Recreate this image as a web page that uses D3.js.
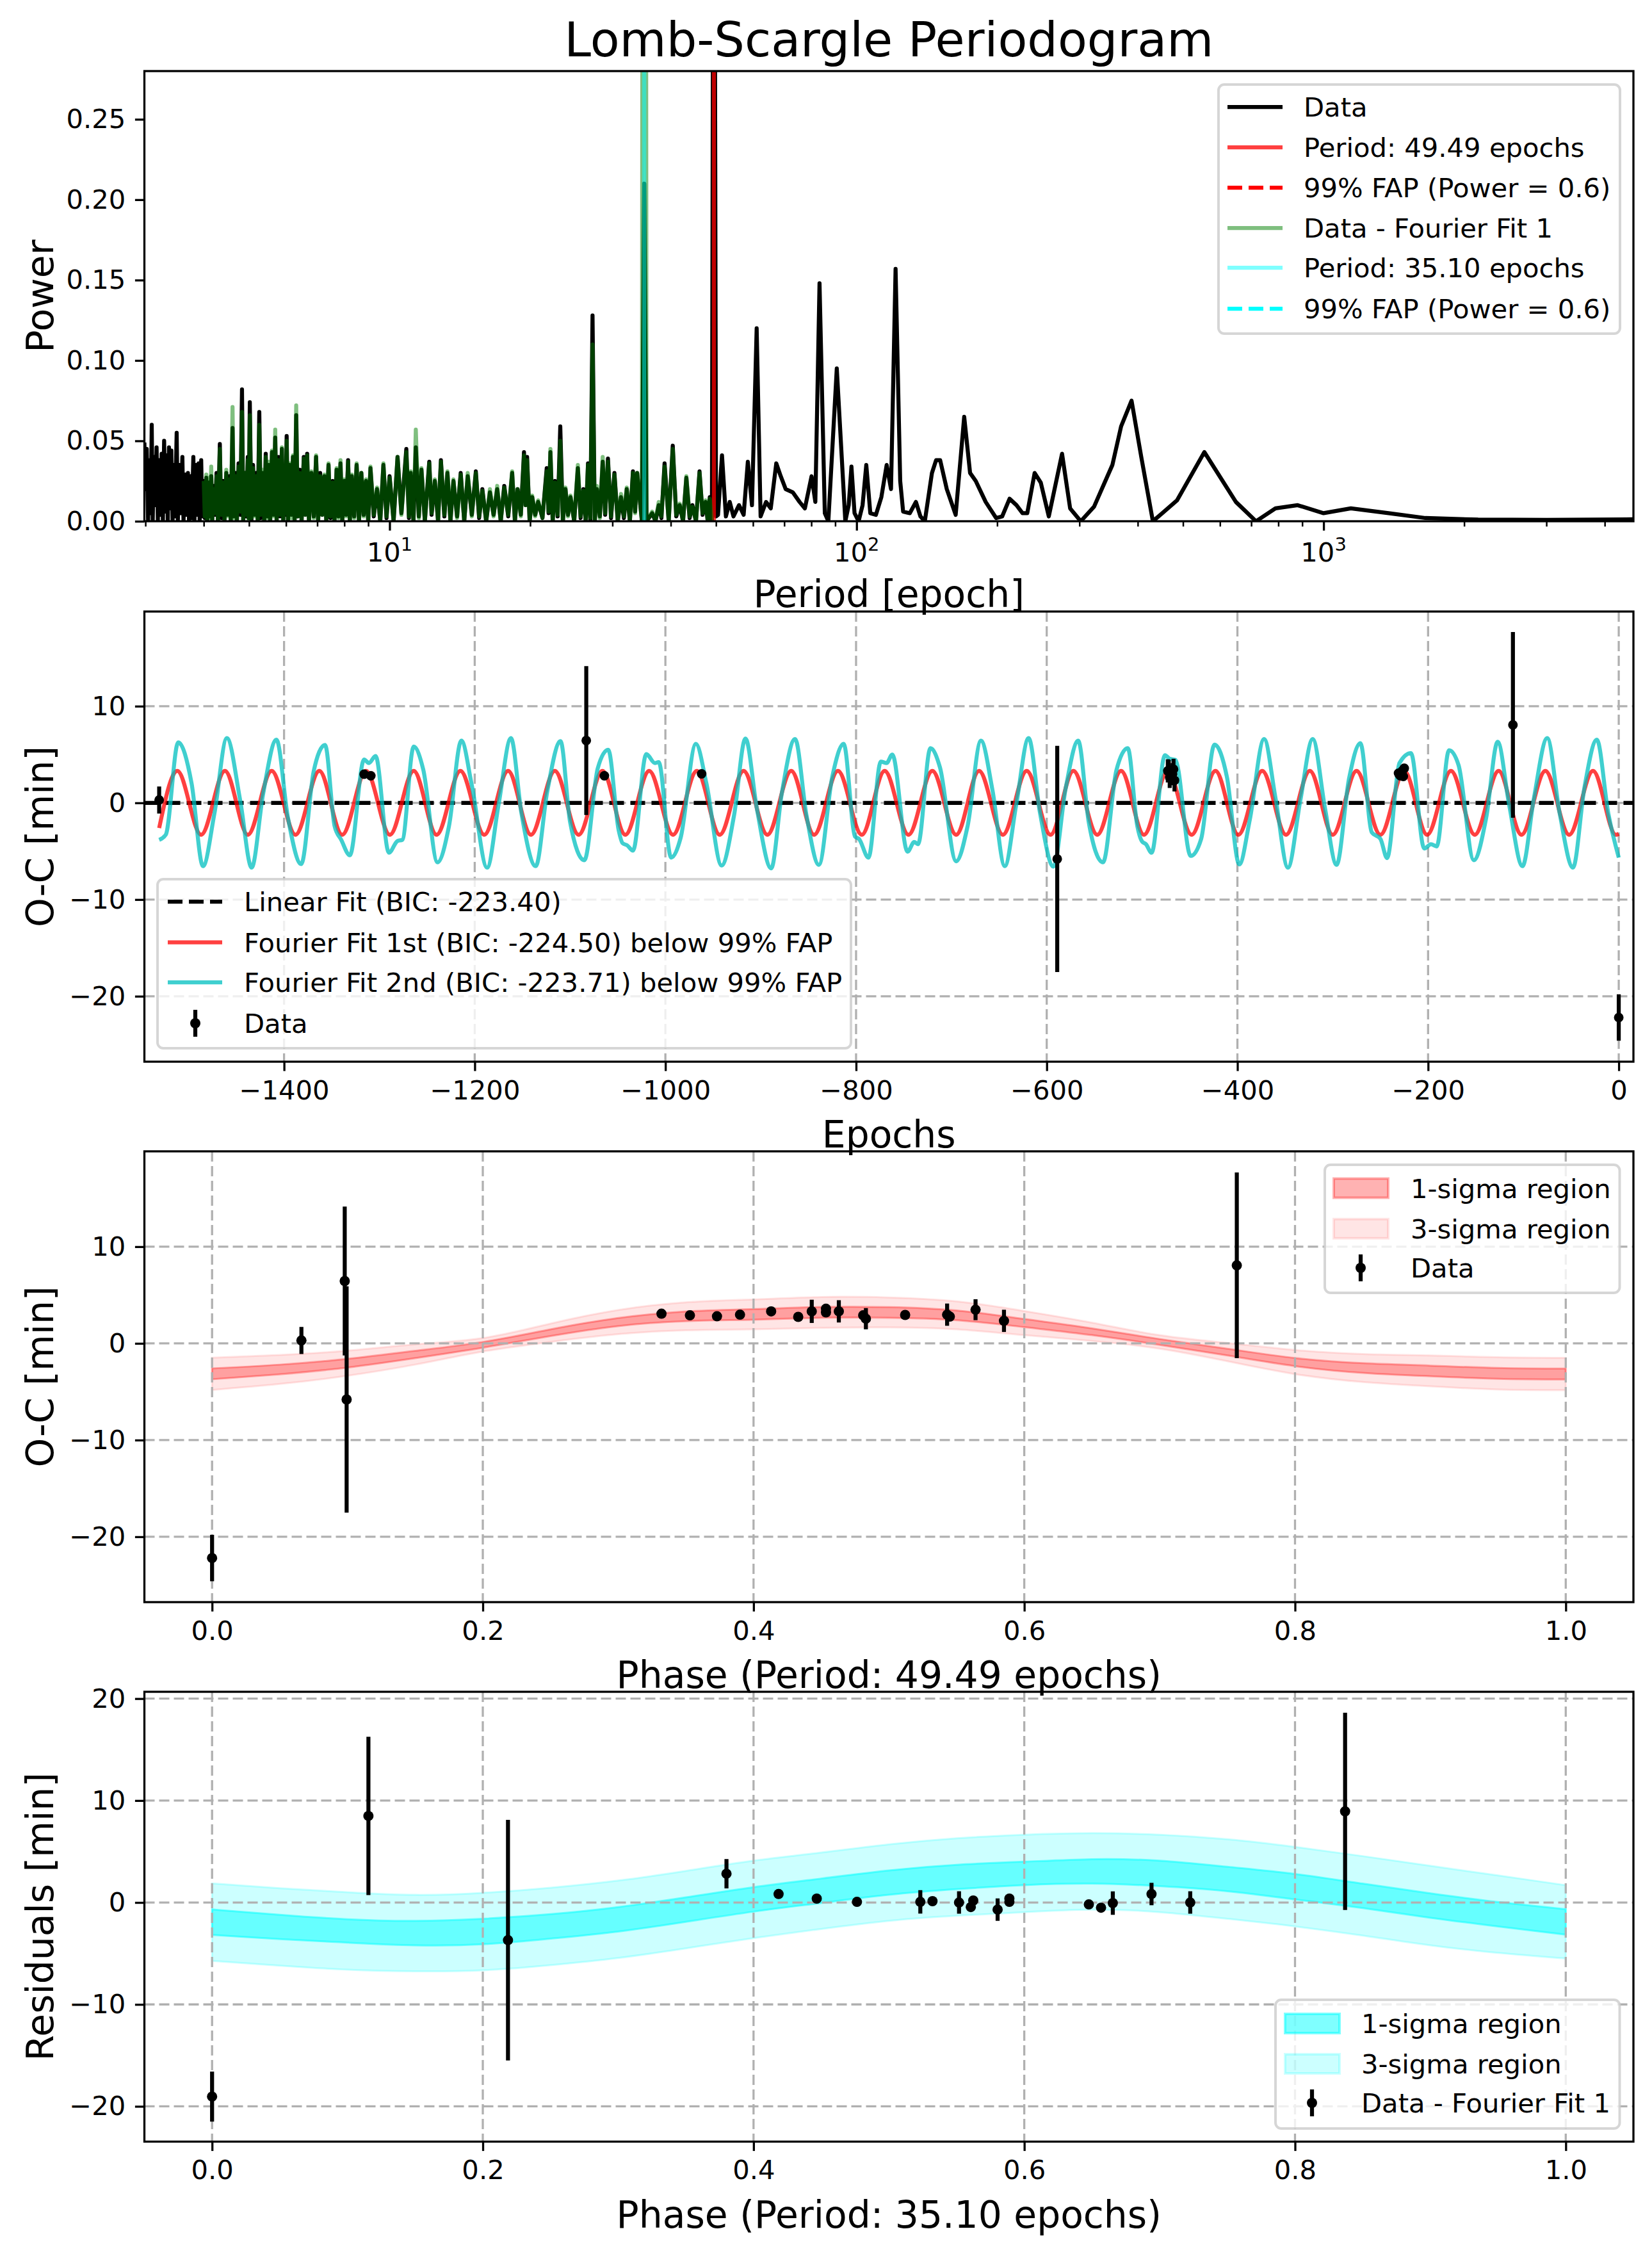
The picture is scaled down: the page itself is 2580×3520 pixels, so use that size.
<!DOCTYPE html>
<meta charset="utf-8">
<title>Lomb-Scargle Periodogram</title>
<style>
body { margin: 0; background: #fff; }
text { font-family: "DejaVu Sans", sans-serif; }
</style>
<body>
<script src="https://d3js.org/d3.v7.min.js"></script>
<script>

// ---------- data ----------

// periodogram, short periods (black only): [period, power]
var lsShort = [[2.985,0.049],[3.0,0.02],[3.02,0.045],[3.04,0.0],[3.06,0.038],[3.08,0.005],[3.095,0.06],[3.11,0.0],
  [3.13,0.04],[3.15,0.01],[3.17,0.046],[3.19,0.0],[3.21,0.038],[3.23,0.004],[3.25,0.042],[3.27,0.0],[3.29,0.05],
  [3.31,0.006],[3.33,0.041],[3.35,0.0],[3.37,0.046],[3.39,0.008],[3.41,0.044],[3.43,0.0],[3.45,0.035],[3.47,0.003],
  [3.5,0.055],[3.52,0.0],[3.55,0.035],[3.57,0.005],[3.6,0.04],[3.62,0.0],[3.65,0.029],[3.67,0.004],[3.7,0.03],
  [3.72,0.0],[3.75,0.028],[3.77,0.002],[3.8,0.04],[3.82,0.0],[3.85,0.035],[3.87,0.004],[3.9,0.036],[3.92,0.0],
  [3.95,0.038],[3.97,0.003]];

// periodogram, 4..49 epochs: [period, data power, (data - fourier fit 1) power]
var lsMid = [[4.0,0.025,0.025],[4.02,0.002,0.003],[4.05,0.027,0.029],[4.07,0.0,0.0],[4.1,0.024,0.027],[4.12,0.003,0.002],
  [4.15,0.028,0.034],[4.17,0.0,0.0],[4.2,0.022,0.02],[4.23,0.004,0.005],[4.26,0.03,0.028],[4.29,0.0,0.0],
  [4.33,0.048,0.045],[4.36,0.002,0.004],[4.4,0.025,0.024],[4.43,0.0,0.0],[4.47,0.03,0.032],[4.5,0.004,0.003],
  [4.54,0.028,0.026],[4.57,0.0,0.0],[4.61,0.058,0.071],[4.64,0.003,0.002],[4.68,0.03,0.028],[4.71,0.0,0.0],
  [4.75,0.036,0.034],[4.79,0.004,0.006],[4.83,0.082,0.068],[4.86,0.0,0.0],[4.9,0.03,0.03],[4.93,0.003,0.004],
  [4.97,0.04,0.038],[4.99,0.002,0.0],[5.02,0.074,0.066],[5.06,0.0,0.002],[5.1,0.035,0.033],[5.14,0.004,0.003],
  [5.18,0.03,0.028],[5.22,0.0,0.0],[5.26,0.068,0.06],[5.3,0.002,0.004],[5.35,0.03,0.032],[5.39,0.0,0.0],
  [5.43,0.042,0.04],[5.47,0.003,0.002],[5.51,0.035,0.037],[5.55,0.0,0.0],[5.6,0.043,0.044],[5.64,0.004,0.003],
  [5.69,0.052,0.057],[5.73,0.0,0.0],[5.78,0.04,0.038],[5.83,0.003,0.004],[5.88,0.045,0.046],[5.92,0.0,0.0],
  [5.96,0.03,0.028],[5.98,0.004,0.005],[6.02,0.053,0.05],[6.06,0.0,0.0],[6.11,0.035,0.036],[6.16,0.004,0.002],
  [6.21,0.04,0.041],[6.26,0.0,0.0],[6.31,0.066,0.072],[6.36,0.003,0.003],[6.42,0.032,0.03],[6.48,0.0,0.0],
  [6.55,0.04,0.039],[6.6,0.004,0.004],[6.66,0.042,0.041],[6.72,0.0,0.0],[6.8,0.03,0.031],[6.88,0.003,0.002],
  [6.96,0.04,0.041],[7.03,0.0,0.0],[7.1,0.03,0.028],[7.17,0.004,0.004],[7.25,0.028,0.029],[7.32,0.0,0.0],
  [7.4,0.035,0.036],[7.47,0.002,0.003],[7.55,0.025,0.024],[7.62,0.0,0.0],[7.7,0.032,0.033],[7.77,0.003,0.002],
  [7.85,0.036,0.038],[7.92,0.0,0.0],[8.0,0.025,0.026],[8.07,0.004,0.003],[8.15,0.038,0.037],[8.22,0.0,0.0],
  [8.3,0.028,0.029],[8.4,0.003,0.002],[8.5,0.035,0.036],[8.6,0.0,0.0],[8.7,0.03,0.03],[8.8,0.004,0.003],
  [8.9,0.025,0.026],[9.0,0.0,0.0],[9.1,0.033,0.034],[9.25,0.003,0.004],[9.4,0.02,0.021],[9.55,0.0,0.0],
  [9.7,0.035,0.036],[9.85,0.002,0.003],[10.0,0.028,0.027],[10.2,0.0,0.0],[10.4,0.04,0.04],[10.6,0.005,0.004],
  [10.86,0.045,0.043],[11.0,0.002,0.003],[11.1,0.03,0.031],[11.25,0.0,0.0],[11.38,0.046,0.057],[11.55,0.003,0.002],
  [11.7,0.032,0.033],[11.9,0.0,0.0],[12.16,0.037,0.036],[12.3,0.004,0.005],[12.5,0.025,0.026],[12.7,0.0,0.0],
  [12.88,0.038,0.037],[13.1,0.003,0.004],[13.3,0.03,0.031],[13.5,0.0,0.0],[13.7,0.025,0.026],[13.95,0.003,0.002],
  [14.2,0.03,0.029],[14.45,0.0,0.0],[14.7,0.028,0.03],[15.0,0.004,0.003],[15.3,0.031,0.03],[15.55,0.002,0.003],
  [15.8,0.02,0.019],[16.1,0.0,0.0],[16.4,0.018,0.02],[16.7,0.004,0.003],[17.0,0.02,0.022],[17.3,0.0,0.0],
  [17.6,0.022,0.021],[17.95,0.003,0.004],[18.3,0.03,0.031],[18.55,0.0,0.0],[18.8,0.02,0.02],[19.1,0.004,0.003],
  [19.4,0.043,0.041],[19.55,0.01,0.01],[19.7,0.04,0.038],[19.95,0.0,0.0],[20.2,0.015,0.016],[20.5,0.004,0.003],
  [20.8,0.012,0.013],[21.25,0.002,0.002],[21.7,0.033,0.031],[21.9,0.005,0.006],[22.1,0.043,0.045],[22.35,0.0,0.0],
  [22.6,0.025,0.024],[22.9,0.003,0.004],[23.2,0.059,0.05],[23.5,0.0,0.0],[23.8,0.02,0.021],[24.1,0.004,0.003],
  [24.4,0.015,0.016],[24.85,0.0,0.0],[25.3,0.033,0.035],[25.65,0.002,0.003],[26.0,0.02,0.019],[26.3,0.0,0.0],
  [26.6,0.036,0.035],[26.9,0.0,0.002],[27.2,0.128,0.11],[27.5,0.0,0.0],[27.8,0.02,0.022],[28.2,0.003,0.002],
  [28.6,0.037,0.04],[28.95,0.004,0.005],[29.35,0.039,0.037],[29.8,0.002,0.003],[30.3,0.03,0.029],[30.8,0.0,0.0],
  [31.3,0.015,0.017],[31.75,0.002,0.003],[32.2,0.02,0.021],[32.7,0.0,0.0],[33.2,0.031,0.03],[33.55,0.006,0.005],
  [33.9,0.03,0.03],[34.7,0.0,0.0],[35.1,0.21,1.8],[35.5,0.0,0.0],[36.5,0.005,0.006],[37.1,0.0,0.0],
  [37.7,0.01,0.012],[38.2,0.002,0.003],[38.8,0.036,0.034],[39.6,0.0,0.0],[40.4,0.047,0.045],[41.1,0.003,0.004],
  [41.8,0.01,0.011],[42.5,0.0,0.0],[43.2,0.027,0.028],[43.9,0.002,0.003],[44.5,0.01,0.009],[45.3,0.0,0.0],
  [46.1,0.031,0.03],[46.8,0.004,0.005],[47.5,0.012,0.013],[48.0,0.0,0.0],[48.5,0.015,0.014],[49.0,0.0,0.0]];

// periodogram, long periods (black only): [period, power]
var lsLong = [[49.49,0.62],[50.0,0.003],[50.5,0.004],[51.5,0.041],[52.5,0.003],[53.5,0.012],[54.5,0.003],[56.0,0.01],
  [57.3,0.004],[58.5,0.037],[59.7,0.01],[61.1,0.12],[62.3,0.003],[64.0,0.012],[65.5,0.008],[67.3,0.036],[68.8,0.028],
  [70.5,0.02],[73.0,0.018],[75.5,0.012],[77.5,0.008],[80.1,0.028],[81.6,0.012],[83.3,0.148],[85.5,0.005],[87.0,0.0],
  [90.7,0.095],[94.6,0.0],[96.2,0.01],[97.5,0.034],[99.0,0.005],[101.0,0.0],[103.0,0.01],[104.9,0.035],[107.0,0.005],
  [110.0,0.004],[113.0,0.015],[116.0,0.035],[118.5,0.02],[121.2,0.157],[124.0,0.025],[125.8,0.006],[130.0,0.005],
  [134.0,0.012],[137.0,0.003],[140.0,0.0],[145.0,0.03],[148.0,0.038],[151.0,0.038],[156.0,0.02],[163.0,0.004],
  [170.0,0.065],[175.0,0.03],[180.0,0.025],[189.0,0.012],[199.0,0.002],[205.0,0.003],[212.6,0.014],[220.0,0.01],
  [226.6,0.005],[232.0,0.005],[240.6,0.03],[248.0,0.024],[258.0,0.003],[275.4,0.042],[286.6,0.008],[302.0,0.0],
  [322.4,0.009],[353.0,0.035],[368.5,0.059],[388.0,0.075],[407.0,0.04],[431.0,0.0],[451.5,0.005],[485.5,0.013],
  [555.5,0.043],[649.0,0.012],[716.6,0.0],[788.8,0.008],[880.0,0.01],[1000.0,0.005],[1144.0,0.008],[1377.0,0.005],
  [1652.0,0.002],[2142.0,0.001],[3000.0,0.0008],[4608.0,0.0012]];

var period1 = 49.49, period2 = 35.10, fapPower = 0.6;

// O-C data: [epoch, O-C min, error]
var ocData = [[-1531,0.3,1.4],[-1316,2.97,0.3],[-1309,2.8,0.3],[-1083,6.45,7.7],[-1064,2.8,0.3],[-962,3.0,0.3],
  [-589,-5.8,11.7],[-473,3.31,1.2],[-472,3.31,1.15],[-471,2.64,1.1],[-468,2.97,1.15],[-467,3.48,1.08],[-466,2.33,1.15],
  [-231,3.07,0.3],[-230,2.9,0.3],[-229,2.8,0.3],[-228,2.97,0.3],[-227,3.31,0.3],[-226,2.74,0.3],[-225,3.58,0.3],
  [-111,8.07,9.6],[0,-22.2,2.4]];

// fitted curves, knots: [epoch, O-C]
var fit1Knots = [[-1531,-2.6],[-1512,3.3],[-1487,-3.3],[-1462,3.3],[-1438,-3.3],[-1413,3.3],[-1388,-3.3],[-1363,3.3],
  [-1339,-3.3],[-1314,3.3],[-1289,-3.3],[-1264,3.3],[-1240,-3.3],[-1215,3.3],[-1190,-3.3],[-1165,3.3],[-1141,-3.3],
  [-1116,3.3],[-1091,-3.3],[-1066,3.3],[-1042,-3.3],[-1017,3.3],[-992,-3.3],[-967,3.3],[-943,-3.3],[-918,3.3],
  [-893,-3.3],[-868,3.3],[-844,-3.3],[-819,3.3],[-794,-3.3],[-770,3.3],[-745,-3.3],[-720,3.3],[-695,-3.3],[-671,3.3],
  [-646,-3.3],[-621,3.3],[-596,-3.3],[-572,3.3],[-547,-3.3],[-522,3.3],[-498,-3.3],[-473,3.3],[-448,-3.3],[-423,3.3],
  [-399,-3.3],[-374,3.3],[-349,-3.3],[-324,3.3],[-300,-3.3],[-275,3.3],[-250,-3.3],[-225,3.3],[-201,-3.3],[-176,3.3],
  [-151,-3.3],[-126,3.3],[-102,-3.3],[-77,3.3],[-52,-3.3],[-27,3.3],[-3,-3.3],[0,-3.2]];

var fit2Knots = [[-1531,-3.83],[-1524,-3.28],[-1511,6.26],[-1497,2.02],[-1485,-6.55],[-1473,-1.07],[-1460,6.7],
  [-1446,0.25],[-1434,-6.7],[-1422,0.9],[-1408,6.54],[-1396,-1.5],[-1382,-6.33],[-1369,3.23],[-1357,5.99],[-1347,-2.4],
  [-1340,-3.83],[-1331,-5.42],[-1316,4.49],[-1311,4.12],[-1304,4.84],[-1290,-5.16],[-1281,-3.94],[-1276,-3.83],
  [-1264,5.82],[-1254,3.45],[-1239,-6.15],[-1227,-2.4],[-1214,6.43],[-1203,1.8],[-1187,-6.7],[-1175,-0.19],[-1162,6.7],
  [-1151,-1.07],[-1136,-6.55],[-1124,1.13],[-1110,6.39],[-1100,-1.96],[-1085,-5.93],[-1071,3.56],[-1060,5.5],
  [-1049,-2.84],[-1045,-4.16],[-1040,-4.4],[-1034,-4.94],[-1020,5.05],[-1011,4.12],[-1007,4.22],[-994,-5.66],
  [-984,-3.61],[-968,6.1],[-957,2.02],[-941,-6.48],[-928,-1.3],[-916,6.65],[-904,-0.63],[-889,-6.77],[-878,0.91],
  [-864,6.61],[-852,-1.3],[-839,-6.41],[-825,2.68],[-813,6.1],[-801,-3.5],[-797,-3.72],[-787,-5.66],[-774,4.27],
  [-768,4.12],[-762,5.0],[-746,-5.05],[-739,-4.05],[-735,-4.27],[-722,5.66],[-712,3.67],[-695,-6.04],[-683,-2.4],
  [-669,6.43],[-657,1.36],[-644,-6.55],[-632,-0.19],[-619,6.7],[-607,-1.07],[-593,-6.59],[-580,1.58],[-567,6.43],
  [-556,-1.96],[-541,-6.15],[-527,3.34],[-515,5.66],[-505,-2.4],[-500,-4.0],[-496,-4.27],[-490,-5.16],[-476,4.93],
  [-471,4.56],[-465,4.45],[-449,-5.49],[-438,-3.72],[-424,6.03],[-411,2.68],[-398,-6.37],[-387,-1.74],[-372,6.61],
  [-360,0.47],[-347,-6.7],[-334,0.25],[-321,6.61],[-308,-0.63],[-296,-6.41],[-283,2.46],[-271,6.17],[-259,-3.06],
  [-250,-3.72],[-243,-5.71],[-230,4.12],[-218,5.15],[-204,-4.72],[-197,-4.27],[-191,-4.5],[-178,5.44],[-168,3.89],
  [-152,-5.93],[-139,-1.52],[-127,6.32],[-115,-0.19],[-101,-6.55],[-89,0.47],[-75,6.7],[-62,-1.07],[-48,-6.7],
  [-36,1.58],[-23,6.54],[-11,-1.07],[0,-5.66]];

// phase folded on 49.49 epochs: [phase, O-C, error]
var phase1Data = [[0,-22.2,2.4],[0.066,0.3,1.4],[0.098,6.45,7.7],[0.0994,-5.8,11.7],[0.332,3.07,0.3],[0.353,2.9,0.3],
  [0.373,2.8,0.3],[0.39,2.97,0.3],[0.413,3.31,0.3],[0.433,2.74,0.3],[0.443,3.31,1.2],[0.4535,3.58,0.3],
  [0.4535,3.2,0.3],[0.463,3.31,1.15],[0.481,2.9,0.3],[0.483,2.55,1.1],[0.512,2.94,0.3],[0.543,2.97,1.15],
  [0.545,2.77,0.3],[0.564,3.48,1.08],[0.585,2.33,1.15],[0.757,8.07,9.6]];

// phase folded on 35.10 epochs: [phase, residual, error]
var phase2Data = [[0,-19.04,2.45],[0.1155,8.49,7.77],[0.2186,-3.69,11.8],[0.38,2.82,1.44],[0.4185,0.83,0.3],
  [0.4467,0.38,0.3],[0.4764,0.06,0.3],[0.5232,0.06,1.15],[0.5322,0.13,0.3],[0.5518,0.0,1.1],[0.5605,-0.45,0.3],
  [0.5623,0.19,0.3],[0.5803,-0.7,1.1],[0.589,0.06,0.3],[0.589,0.38,0.3],[0.6477,-0.19,0.3],[0.6567,-0.51,0.3],
  [0.6654,-0.06,1.15],[0.694,0.83,1.1],[0.7226,0.0,1.1],[0.837,8.94,9.67]];

// sigma bands, sampled every 0.05 in phase
var bandPhase = [0,0.05,0.1,0.15,0.2,0.25,0.3,0.35,0.4,0.45,0.5,0.55,0.6,0.65,0.7,0.75,0.8,0.85,0.9,0.95,1.0];
var band1Mid = [-3.15,-2.7,-2.05,-1.15,-0.15,1.1,2.2,2.8,3.0,3.2,3.2,2.9,2.1,1.2,0.15,-0.9,-1.93,-2.55,-2.85,-3.1,-3.17];
var band1Sig1 = [0.56,0.5,0.45,0.38,0.3,0.35,0.42,0.5,0.55,0.56,0.55,0.5,0.42,0.35,0.3,0.35,0.42,0.5,0.55,0.56,0.56];
var band1Sig3 = [1.67,1.5,1.3,1.05,0.7,0.95,1.25,1.45,1.55,1.6,1.55,1.45,1.25,0.95,0.7,0.95,1.25,1.45,1.6,1.67,1.67];
var band2Mid = [-1.93,-2.4,-2.79,-3.0,-2.85,-2.35,-1.65,-0.7,0.3,1.15,1.95,2.5,2.85,3.05,2.85,2.3,1.55,0.65,-0.3,-1.15,-1.9];
var band2Sig1 = [1.25,1.2,1.15,1.2,1.25,1.2,1.2,1.2,1.2,1.2,1.2,1.2,1.15,1.2,1.25,1.2,1.25,1.2,1.2,1.2,1.25];
var band2Sig3 = [3.8,3.8,3.8,3.75,3.8,3.8,3.8,3.8,3.8,3.75,3.75,3.8,3.8,3.75,3.8,3.9,3.9,3.9,3.9,3.8,3.6];

// ---------- layout ----------

var W = 2580, H = 3520;
var L = 225.5, R = 2551;
var FS = 41.7, LFS = 58.3, TFS = 75;
var LW = 6.25;
var panels = [
  {top: 111, bottom: 814},
  {top: 955, bottom: 1658},
  {top: 1798, bottom: 2502},
  {top: 2642, bottom: 3344.5}
];

var svg = d3.select("body").append("svg")
    .attr("width", W)
    .attr("height", H)
    .style("background", "#fff");

var defs = svg.append("defs");
panels.forEach(function(p, i) {
  defs.append("clipPath").attr("id", "clip" + i)
    .append("rect")
    .attr("x", L).attr("y", p.top)
    .attr("width", R - L).attr("height", p.bottom - p.top);
});

// scales
var x1 = d3.scaleLog().domain([2.985, 4608]).range([L, R]);
var y1 = d3.scaleLinear().domain([0, 0.28]).range([panels[0].bottom, panels[0].top]);
var x2 = d3.scaleLinear().domain([-1546.5, 15.4]).range([L, R]);
var y2 = d3.scaleLinear().domain([-26.77, 19.79]).range([panels[1].bottom, panels[1].top]);
var xp = d3.scaleLinear().domain([-0.05, 1.05]).range([L, R]);
var y3 = d3.scaleLinear().domain([-26.76, 19.86]).range([panels[2].bottom, panels[2].top]);
var y4 = d3.scaleLinear().domain([-23.46, 20.67]).range([panels[3].bottom, panels[3].top]);

// ---------- helpers ----------

function styleAxis(g) {
  g.attr("font-family", "DejaVu Sans").attr("font-size", FS);
  g.select(".domain").remove();
  g.selectAll(".tick line").attr("stroke", "#000").attr("stroke-width", 3.3);
  g.selectAll(".tick text").attr("fill", "#000");
}

function bottomAxis(p, x, values, fmt) {
  svg.append("g")
    .attr("transform", "translate(0," + p.bottom + ")")
    .call(d3.axisBottom(x).tickValues(values).tickFormat(fmt).tickSize(14.6).tickPadding(14.6).tickSizeOuter(0))
    .call(styleAxis);
}

function leftAxis(p, y, values, fmt) {
  svg.append("g")
    .attr("transform", "translate(" + L + ",0)")
    .call(d3.axisLeft(y).tickValues(values).tickFormat(fmt).tickSize(14.6).tickPadding(14.6).tickSizeOuter(0))
    .call(styleAxis);
}

function grid(p, x, xs, y, ys) {
  var g = svg.append("g").attr("clip-path", "url(#clip" + panels.indexOf(p) + ")");
  g.selectAll("line.gx").data(xs).enter().append("line")
    .attr("x1", function(d) { return x(d); }).attr("x2", function(d) { return x(d); })
    .attr("y1", p.top).attr("y2", p.bottom);
  g.selectAll("line.gy").data(ys).enter().append("line")
    .attr("y1", function(d) { return y(d); }).attr("y2", function(d) { return y(d); })
    .attr("x1", L).attr("x2", R);
  g.selectAll("line")
    .attr("stroke", "#b0b0b0").attr("stroke-width", 3.3).attr("stroke-dasharray", "16,7");
}

function frame(p) {
  svg.append("rect")
    .attr("x", L).attr("y", p.top)
    .attr("width", R - L).attr("height", p.bottom - p.top)
    .attr("fill", "none").attr("stroke", "#000").attr("stroke-width", 3.3);
}

function xLabel(p, s) {
  svg.append("text")
    .attr("x", (L + R) / 2).attr("y", p.bottom + 134)
    .attr("text-anchor", "middle").attr("font-size", LFS)
    .text(s);
}

function yLabel(p, s) {
  svg.append("text")
    .attr("transform", "translate(83," + (p.top + p.bottom) / 2 + ") rotate(-90)")
    .attr("text-anchor", "middle").attr("font-size", LFS)
    .text(s);
}

function errorbars(p, x, y, data, r) {
  var g = svg.append("g").attr("clip-path", "url(#clip" + panels.indexOf(p) + ")");
  g.selectAll("line").data(data).enter().append("line")
    .attr("x1", function(d) { return x(d[0]); })
    .attr("x2", function(d) { return x(d[0]); })
    .attr("y1", function(d) { return y(d[1] - d[2]); })
    .attr("y2", function(d) { return y(d[1] + d[2]); })
    .attr("stroke", "#000").attr("stroke-width", LW);
  g.selectAll("circle").data(data).enter().append("circle")
    .attr("cx", function(d) { return x(d[0]); })
    .attr("cy", function(d) { return y(d[1]); })
    .attr("r", r).attr("fill", "#000");
}

function legendFrame(x0, y0, x1_, y1_) {
  svg.append("rect")
    .attr("x", x0).attr("y", y0)
    .attr("width", x1_ - x0).attr("height", y1_ - y0)
    .attr("rx", 9).attr("ry", 9)
    .attr("fill", "#fff").attr("fill-opacity", 0.8)
    .attr("stroke", "#cccccc").attr("stroke-opacity", 0.8).attr("stroke-width", 4);
}

function legendText(x, y, s) {
  svg.append("text").attr("x", x).attr("y", y + 15).attr("font-size", FS).text(s);
}

function legendLine(xa, xb, y, color, opacity, dash) {
  svg.append("line")
    .attr("x1", xa).attr("x2", xb).attr("y1", y).attr("y2", y)
    .attr("stroke", color).attr("stroke-opacity", opacity)
    .attr("stroke-width", LW).attr("stroke-dasharray", dash || null);
}

function legendPatch(xa, xb, y, color, opacity) {
  svg.append("rect")
    .attr("x", xa).attr("y", y - 15).attr("width", xb - xa).attr("height", 30)
    .attr("fill", color).attr("fill-opacity", opacity)
    .attr("stroke", color).attr("stroke-opacity", opacity).attr("stroke-width", 4);
}

function legendErr(x, y) {
  svg.append("line").attr("x1", x).attr("x2", x).attr("y1", y - 21).attr("y2", y + 21)
    .attr("stroke", "#000").attr("stroke-width", LW);
  svg.append("circle").attr("cx", x).attr("cy", y).attr("r", 8).attr("fill", "#000");
}

// ---------- panel 1: Lomb-Scargle periodogram ----------

var p1 = panels[0];
var blackLine = lsShort
  .concat(lsMid.map(function(d) { return [d[0], d[1]]; }))
  .concat(lsLong);
var greenLine = lsMid.map(function(d) { return [d[0], d[2]]; });

var line1 = d3.line()
  .x(function(d) { return x1(d[0]); })
  .y(function(d) { return y1(d[1]); });

var g1 = svg.append("g").attr("clip-path", "url(#clip0)");
g1.append("path").datum(blackLine).attr("d", line1)
  .attr("fill", "none").attr("stroke", "#000").attr("stroke-width", LW).attr("stroke-linejoin", "round");
g1.append("line")
  .attr("x1", x1(period1)).attr("x2", x1(period1)).attr("y1", p1.top).attr("y2", p1.bottom)
  .attr("stroke", "red").attr("stroke-opacity", 0.75).attr("stroke-width", LW);
g1.append("line")
  .attr("x1", L).attr("x2", R).attr("y1", y1(fapPower)).attr("y2", y1(fapPower))
  .attr("stroke", "red").attr("stroke-width", LW).attr("stroke-dasharray", "23,10");
g1.append("path").datum(greenLine).attr("d", line1)
  .attr("fill", "none").attr("stroke", "green").attr("stroke-opacity", 0.5)
  .attr("stroke-width", LW).attr("stroke-linejoin", "round");
g1.append("line")
  .attr("x1", x1(period2)).attr("x2", x1(period2)).attr("y1", p1.top).attr("y2", p1.bottom)
  .attr("stroke", "cyan").attr("stroke-opacity", 0.5).attr("stroke-width", LW);
g1.append("line")
  .attr("x1", L).attr("x2", R).attr("y1", y1(fapPower)).attr("y2", y1(fapPower))
  .attr("stroke", "cyan").attr("stroke-width", LW).attr("stroke-dasharray", "23,10");

frame(p1);

// log axis: major ticks with 10^n labels, minor ticks unlabeled
var majorP = [10, 100, 1000];
var minorP = [3,4,5,6,7,8,9,20,30,40,50,60,70,80,90,200,300,400,500,600,700,800,900,2000,3000,4000];
svg.append("g")
  .attr("transform", "translate(0," + p1.bottom + ")")
  .call(d3.axisBottom(x1).tickValues(majorP).tickFormat("").tickSize(14.6).tickSizeOuter(0))
  .call(styleAxis);
svg.append("g")
  .attr("transform", "translate(0," + p1.bottom + ")")
  .call(d3.axisBottom(x1).tickValues(minorP).tickFormat("").tickSize(8.3).tickSizeOuter(0))
  .call(styleAxis)
  .selectAll(".tick line").attr("stroke-width", 2.5);
majorP.forEach(function(v) {
  var t = svg.append("text")
    .attr("x", x1(v)).attr("y", p1.bottom + 63)
    .attr("text-anchor", "middle").attr("font-size", FS);
  t.append("tspan").text("10");
  t.append("tspan").attr("dy", -17).attr("font-size", 29).text(String(Math.round(Math.log10(v))));
});
leftAxis(p1, y1, [0, 0.05, 0.10, 0.15, 0.20, 0.25], d3.format(".2f"));

svg.append("text")
  .attr("x", (L + R) / 2).attr("y", 88)
  .attr("text-anchor", "middle").attr("font-size", TFS)
  .text("Lomb-Scargle Periodogram");
xLabel(p1, "Period [epoch]");
yLabel(p1, "Power");

legendFrame(1903, 132, 2530, 521);
var leg1 = [
  ["Data", "#000", 1, null],
  ["Period: 49.49 epochs", "red", 0.75, null],
  ["99% FAP (Power = 0.6)", "red", 1, "23,10"],
  ["Data - Fourier Fit 1", "green", 0.5, null],
  ["Period: 35.10 epochs", "cyan", 0.5, null],
  ["99% FAP (Power = 0.6)", "cyan", 1, "23,10"]
];
var leg1Y = [167, 230, 293, 356, 418, 482];
leg1.forEach(function(d, i) {
  legendLine(1917, 2003, leg1Y[i], d[1], d[2], d[3]);
  legendText(2036, leg1Y[i], d[0]);
});

// ---------- panel 2: O-C vs epoch ----------

var p2 = panels[1];
var ticks2x = [-1400, -1200, -1000, -800, -600, -400, -200, 0];
var ticks2y = [-20, -10, 0, 10];
grid(p2, x2, ticks2x, y2, ticks2y);

var line2 = d3.line()
  .x(function(d) { return x2(d[0]); })
  .y(function(d) { return y2(d[1]); })
  .curve(d3.curveMonotoneX);

var g2 = svg.append("g").attr("clip-path", "url(#clip1)");
g2.append("line")
  .attr("x1", L).attr("x2", R).attr("y1", y2(0)).attr("y2", y2(0))
  .attr("stroke", "#000").attr("stroke-width", LW).attr("stroke-dasharray", "23,10");
g2.append("path").datum(fit1Knots).attr("d", line2)
  .attr("fill", "none").attr("stroke", "red").attr("stroke-opacity", 0.75).attr("stroke-width", LW);
g2.append("path").datum(fit2Knots).attr("d", line2)
  .attr("fill", "none").attr("stroke", "#00bfbf").attr("stroke-opacity", 0.75).attr("stroke-width", LW);
errorbars(p2, x2, y2, ocData, 7.5);

frame(p2);
bottomAxis(p2, x2, ticks2x, d3.format("d"));
leftAxis(p2, y2, ticks2y, d3.format("d"));
xLabel(p2, "Epochs");
yLabel(p2, "O-C [min]");

legendFrame(246, 1373, 1329, 1637);
var leg2Y = [1408, 1471.5, 1534, 1598];
legendLine(262, 347, leg2Y[0], "#000", 1, "23,10");
legendLine(262, 347, leg2Y[1], "red", 0.75, null);
legendLine(262, 347, leg2Y[2], "#00bfbf", 0.75, null);
legendErr(305, leg2Y[3]);
legendText(381, leg2Y[0], "Linear Fit (BIC: -223.40)");
legendText(381, leg2Y[1], "Fourier Fit 1st (BIC: -224.50) below 99% FAP");
legendText(381, leg2Y[2], "Fourier Fit 2nd (BIC: -223.71) below 99% FAP");
legendText(381, leg2Y[3], "Data");

// ---------- phase panels ----------

function bandArea(y, mid, sig) {
  return d3.area()
    .x(function(d, i) { return xp(bandPhase[i]); })
    .y0(function(d, i) { return y(mid[i] - sig[i]); })
    .y1(function(d, i) { return y(mid[i] + sig[i]); })
    .curve(d3.curveNatural);
}

function phasePanel(p, y, yTicks, mid, sig1, sig3, color, a1, a3, data) {
  var idx = panels.indexOf(p);
  var g = svg.append("g").attr("clip-path", "url(#clip" + idx + ")");
  g.append("path").datum(bandPhase).attr("d", bandArea(y, mid, sig3))
    .attr("fill", color).attr("fill-opacity", a3)
    .attr("stroke", color).attr("stroke-opacity", a3).attr("stroke-width", 3);
  g.append("path").datum(bandPhase).attr("d", bandArea(y, mid, sig1))
    .attr("fill", color).attr("fill-opacity", a1)
    .attr("stroke", color).attr("stroke-opacity", a1).attr("stroke-width", 3);
  var phTicks = [0, 0.2, 0.4, 0.6, 0.8, 1.0];
  grid(p, xp, phTicks, y, yTicks);
  errorbars(p, xp, y, data, 8);
  frame(p);
  bottomAxis(p, xp, phTicks, d3.format(".1f"));
  leftAxis(p, y, yTicks, d3.format("d"));
}

var p3 = panels[2];
phasePanel(p3, y3, [-20, -10, 0, 10], band1Mid, band1Sig1, band1Sig3, "red", 0.3, 0.1, phase1Data);
xLabel(p3, "Phase (Period: 49.49 epochs)");
yLabel(p3, "O-C [min]");
legendFrame(2069, 1819, 2529.5, 2019);
var leg3Y = [1855.5, 1918.8, 1980];
legendPatch(2083, 2168, leg3Y[0], "red", 0.3);
legendPatch(2083, 2168, leg3Y[1], "red", 0.1);
legendErr(2125, leg3Y[2]);
legendText(2203, leg3Y[0], "1-sigma region");
legendText(2203, leg3Y[1], "3-sigma region");
legendText(2203, leg3Y[2], "Data");

var p4 = panels[3];
phasePanel(p4, y4, [-20, -10, 0, 10, 20], band2Mid, band2Sig1, band2Sig3, "cyan", 0.5, 0.2, phase2Data);
xLabel(p4, "Phase (Period: 35.10 epochs)");
yLabel(p4, "Residuals [min]");
legendFrame(1992, 3123, 2529.5, 3324);
var leg4Y = [3160, 3223, 3284];
legendPatch(2007, 2092, leg4Y[0], "cyan", 0.5);
legendPatch(2007, 2092, leg4Y[1], "cyan", 0.2);
legendErr(2049, leg4Y[2]);
legendText(2126, leg4Y[0], "1-sigma region");
legendText(2126, leg4Y[1], "3-sigma region");
legendText(2126, leg4Y[2], "Data - Fourier Fit 1");

</script>
</body>
